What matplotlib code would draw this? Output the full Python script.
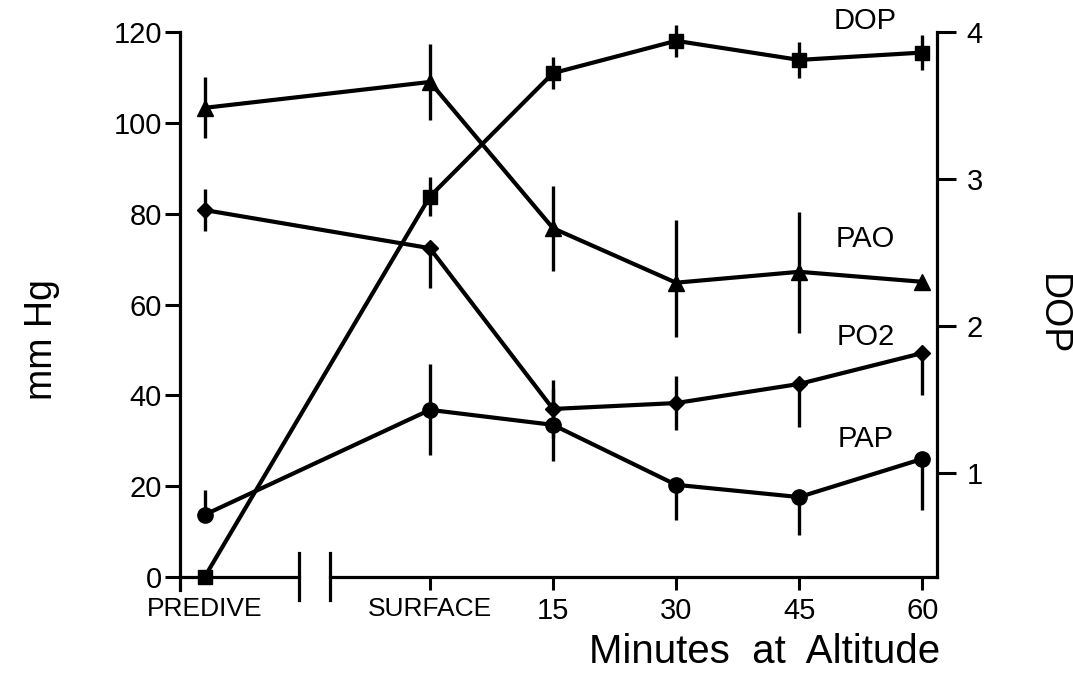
import matplotlib
matplotlib.use("Agg")
import matplotlib.pyplot as plt
import numpy as np

plt.rcParams['font.family'] = ['Liberation Sans', 'DejaVu Sans']

# ---- data ----
categories = ["PREDIVE", "SURFACE", "15", "30", "45", "60"]
x_pos = [-0.83, 1.0, 2.0, 3.0, 4.0, 5.0]

pao = [103.3, 109.0, 76.8, 64.8, 67.2, 65.0]
pao_lo = [6.6, 8.4, 9.4, 11.9, 13.4, 0.0]
pao_hi = [6.8, 8.4, 9.4, 13.9, 13.2, 0.0]

po2 = [80.8, 72.4, 37.0, 38.3, 42.5, 49.3]
po2_lo = [4.7, 8.8, 6.4, 6.0, 9.5, 9.2]
po2_hi = [4.7, 0.0, 6.4, 6.0, 0.0, 0.0]

pap = [13.7, 36.8, 33.5, 20.3, 17.6, 26.0]
pap_lo = [0.0, 10.0, 7.9, 7.8, 8.4, 11.2]
pap_hi = [5.5, 10.0, 7.9, 0.0, 0.0, 0.0]

dop = [0.29, 2.88, 3.72, 3.94, 3.81, 3.86]
dop_err = [0.0, 0.13, 0.11, 0.11, 0.12, 0.12]

left_ticks = [0, 20, 40, 60, 80, 100, 120]
right_ticks = [1, 2, 3, 4]

# ---- figure ----
W, H = 1073, 685
fig = plt.figure(figsize=(W / 100, H / 100), dpi=100)
fig.patch.set_facecolor("white")
ax = fig.add_axes([180 / W, 1 - 577 / H, (937 - 180) / W, (577 - 32) / H])
ax2 = ax.twinx()

LW = 3.0
ELW = 2.4
k = "black"

ax.errorbar(x_pos, pao, yerr=[pao_lo, pao_hi], color=k, lw=LW, elinewidth=ELW,
            marker="^", ms=12, capsize=0, clip_on=False)
ax.errorbar(x_pos, po2, yerr=[po2_lo, po2_hi], color=k, lw=LW, elinewidth=ELW,
            marker="D", ms=8, capsize=0, clip_on=False)
ax.errorbar(x_pos, pap, yerr=[pap_lo, pap_hi], color=k, lw=LW, elinewidth=ELW,
            marker="o", ms=11, capsize=0, clip_on=False)
ax2.errorbar(x_pos, dop, yerr=dop_err, color=k, lw=LW, elinewidth=ELW,
             marker="s", ms=10, capsize=0, clip_on=False)

ax.set_xlim(-1.03, 5.12)
ax.set_ylim(0, 120)
ax2.set_ylim(0.29, 4.0)

# spines
for s in ["top", "right", "bottom"]:
    ax.spines[s].set_visible(False)
for s in ["top", "left", "bottom"]:
    ax2.spines[s].set_visible(False)
ax.spines["left"].set_linewidth(2.3)
ax2.spines["right"].set_linewidth(2.3)

# broken x axis line
xt = ax.get_xaxis_transform()
b1, b2 = -0.065, 0.187
ax.plot([-1.03, b1], [0, 0], color=k, lw=2.3, transform=xt, clip_on=False)
ax.plot([b2, 5.12], [0, 0], color=k, lw=2.3, transform=xt, clip_on=False)
for b in (b1, b2):
    ax.plot([b, b], [0.044, -0.042], color=k, lw=2.3, transform=xt, clip_on=False)
# left spine extension below zero
ax.plot([-1.03, -1.03], [0, -0.024], color=k, lw=2.3, transform=xt, clip_on=False)

# ticks
ax.set_xticks(x_pos)
ax.set_xticklabels(categories)
ax.tick_params(axis="x", direction="out", length=9.4, width=2.2, labelsize=19, pad=5)
for i, lab in enumerate(ax.get_xticklabels()):
    if i >= 2:
        lab.set_fontsize(21)
ax.xaxis.get_major_ticks()[0].tick1line.set_visible(False)
ax.set_yticks(left_ticks)
ax.tick_params(axis="y", direction="out", length=11, width=2.2, labelsize=21, pad=2)
ax2.set_yticks(right_ticks)
ax2.tick_params(axis="y", direction="out", length=13.5, width=2.2, labelsize=21, pad=8)

# axis labels
fig.text(42 / W, 1 - 340 / H, "mm Hg", fontsize=27, rotation=90,
         ha="center", va="center")
fig.text(1052 / W, 1 - 315 / H, "DOP", fontsize=27, rotation=270,
         ha="center", va="center")
fig.text(765 / W, 1 - 652 / H, "Minutes  at  Altitude", fontsize=29,
         ha="center", va="center")

# series labels
for name, yv in [("DOP", 122.4), ("PAO", 74.4), ("PO2", 52.8), ("PAP", 30.4)]:
    ax.text(4.54, yv, name, fontsize=21, ha="center", va="center", clip_on=False)

fig.savefig("out.png", dpi=100, facecolor="white")
